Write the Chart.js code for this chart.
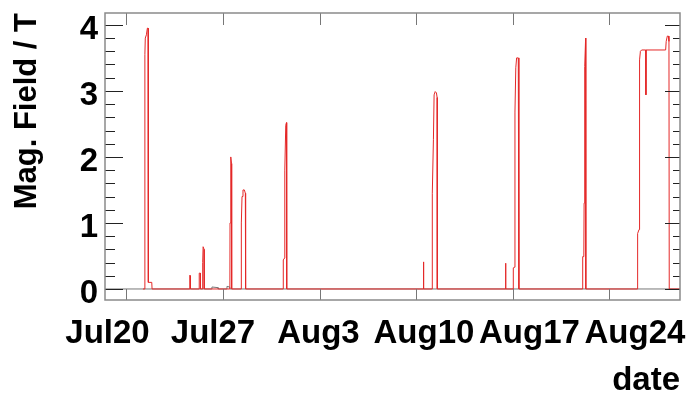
<!DOCTYPE html>
<html lang="en">
<head>
  <meta charset="UTF-8" />
  <title>Magnetic field history</title>
  <script src="https://cdn.jsdelivr.net/npm/chart.js"></script>
  <style>
    body { margin: 0; background: #fff; }
    #wrap { width: 688px; height: 397px; }
  </style>
</head>
<body>
  <div id="wrap"><canvas id="fieldChart"></canvas></div>

  <script>
    // time in days since Jul 20, field in tesla
    const fieldDays = [
      1.20, 1.33, 1.34, 1.37, 1.45, 1.52, 1.57, 1.59, 1.84, 1.86,
      4.59, 4.60, 4.63, 4.64,
      5.27, 5.28, 5.36, 5.37, 5.52, 5.53, 5.56, 5.63, 5.64,
      7.50, 7.51, 7.55, 7.58, 7.62, 7.63,
      8.32, 8.33, 8.38, 8.45, 8.55, 8.62, 8.64,
      11.36, 11.37, 11.47, 11.48, 11.55, 11.60, 11.62,
      21.50, 21.51, 21.55, 21.56,
      22.16, 22.17, 22.25, 22.30, 22.38, 22.47, 22.52, 22.53,
      27.45, 27.46, 27.50, 27.51,
      28.03, 28.04, 28.15, 28.16, 28.22, 28.28, 28.40, 28.44, 28.45,
      33.06, 33.07, 33.15, 33.17, 33.20, 33.23, 33.28, 33.29, 33.30,
      37.04, 37.05, 37.15, 37.17, 37.21, 37.25, 37.34, 37.64, 37.65, 37.66,
      39.08, 39.12, 39.20, 39.28, 39.32, 39.34, 40.12
    ];
    const fieldValues = [
      0, 0, 3.55, 3.80, 3.85, 3.95, 3.95, 0.10, 0.10, 0,
      0, 0.21, 0.20, 0,
      0, 0.24, 0.24, 0, 0, 0.40, 0.64, 0.60, 0,
      0, 1.00, 1.95, 2.00, 1.90, 0,
      0, 1.00, 1.40, 1.50, 1.50, 1.45, 0,
      0, 0.44, 0.47, 1.80, 2.48, 2.52, 0,
      0, 0.41, 0.40, 0,
      0, 1.45, 2.26, 2.94, 2.99, 2.97, 2.90, 0,
      0, 0.39, 0.37, 0,
      0, 0.32, 0.33, 2.68, 3.35, 3.50, 3.50, 3.45, 0,
      0, 0.49, 0.49, 1.30, 2.61, 3.37, 3.80, 3.80, 0,
      0, 0.84, 0.90, 2.81, 3.47, 3.60, 3.62, 3.62, 2.94, 3.62,
      3.62, 3.75, 3.83, 3.83, 3.75, 0, 0
    ];
    const baseDays = [-1.55, 6.18, 6.20, 6.64, 6.66, 7.27, 7.29, 7.49, 7.51, 40.12];
    const baseValues = [0, 0, 0.03, 0.02, 0, 0, 0.04, 0.03, 0, 0];

    const weekDays = [0, 7, 14, 21, 28, 35];
    const weekLabels = ["Jul20", "Jul27", "Aug3", "Aug10", "Aug17", "Aug24"];
    const yMajor = [0, 1, 2, 3, 4];
    const yMinorPerMajor = 5;

    const toPoints = (xs, ys) => xs.map((d, i) => ({ x: d, y: ys[i] }));
    const bold = size => ({ family: "'Liberation Sans', Arial, sans-serif", weight: 'bold', size, lineHeight: 1 });

    // frame plus inward tick marks, ROOT style
    const frameTicks = {
      id: 'frameTicks',
      afterDatasetsDraw(chart) {
        const { ctx, chartArea: a, scales: { x, y } } = chart;
        ctx.save();
        ctx.lineWidth = 1;
        ctx.strokeStyle = '#222';
        ctx.beginPath();
        yMajor.forEach((v, i) => {
          for (let k = 0; k < yMinorPerMajor; k++) {
            if (k > 0 && i === yMajor.length - 1) break;
            const py = Math.round(y.getPixelForValue(v + k / yMinorPerMajor)) + 0.5;
            const big = k === 0;
            ctx.moveTo(a.left, py); ctx.lineTo(a.left + (big ? 18 : 10), py);
            ctx.moveTo(a.right, py); ctx.lineTo(a.right - (big ? 15 : 7), py);
          }
        });
        ctx.stroke();
        ctx.strokeStyle = '#777';
        ctx.beginPath();
        weekDays.forEach(d => {
          const px = Math.round(x.getPixelForValue(d)) + 0.5;
          ctx.moveTo(px, a.bottom); ctx.lineTo(px, a.bottom - 11);
          ctx.moveTo(px, a.top); ctx.lineTo(px, a.top + 12);
        });
        ctx.stroke();
        ctx.strokeStyle = '#8a8a8a';
        ctx.lineWidth = 1.5;
        ctx.strokeRect(a.left, a.top, a.right - a.left, a.bottom - a.top);
        ctx.restore();
      }
    };

    new Chart(document.getElementById('fieldChart'), {
      type: 'line',
      data: {
        datasets: [
          { data: toPoints(fieldDays, fieldValues), borderColor: 'rgb(228,40,40)', borderWidth: 1, pointRadius: 0, tension: 0 },
          { data: toPoints(baseDays, baseValues), borderColor: '#777', borderWidth: 1, pointRadius: 0, tension: 0 }
        ]
      },
      options: {
        responsive: true,
        maintainAspectRatio: false,
        animation: false,
        layout: { padding: { top: 13, right: 8, left: 0, bottom: 0 } },
        plugins: { legend: { display: false }, tooltip: { enabled: false } },
        scales: {
          x: { type: 'linear', display: false, min: -1.55, max: 40.12 },
          xl: {
            type: 'linear', position: 'bottom', min: -0.166, max: 37.99,
            grid: { display: false, drawTicks: false },
            border: { display: false },
            afterBuildTicks: s => { s.ticks = weekDays.map(v => ({ value: v })); },
            afterFit: s => { s.height = 97; s.paddingLeft = 0; s.paddingRight = 0; },
            ticks: {
              autoSkip: false, maxRotation: 0, padding: 17, color: '#000', font: bold(33),
              callback: v => weekLabels[weekDays.indexOf(v)]
            },
            title: { display: true, text: 'date', align: 'end', color: '#000', font: bold(33), padding: { top: 0, bottom: 0 } }
          },
          y: {
            min: -0.167, max: 4.18,
            grid: { display: false, drawTicks: false },
            border: { display: false },
            afterBuildTicks: s => { s.ticks = yMajor.map(v => ({ value: v })); },
            afterFit: s => { s.width = 105; s.paddingTop = 0; s.paddingBottom = 0; },
            ticks: { padding: 7, labelOffset: 5, color: '#000', font: bold(33) },
            title: { display: true, text: 'Mag. Field / T', align: 'end', color: '#000', font: bold(31), padding: { top: 12, bottom: 0 } }
          }
        }
      },
      plugins: [frameTicks]
    });
  </script>
</body>
</html>
